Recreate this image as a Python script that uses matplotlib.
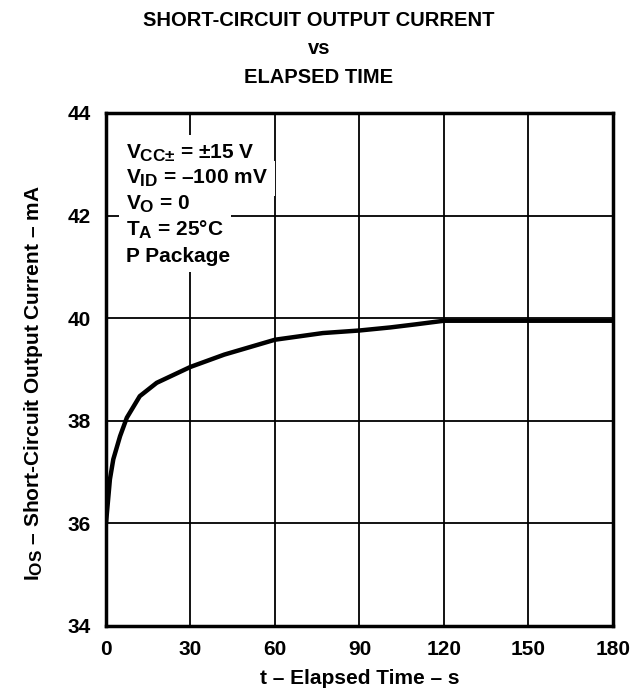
import matplotlib
matplotlib.use("Agg")
import matplotlib.pyplot as plt
try:
    import matplotlib._mathtext as _mt
    _mt.SHRINK_FACTOR = 0.82
except Exception:
    pass

plt.rcParams['font.family'] = ['Liberation Sans', 'DejaVu Sans']
plt.rcParams['font.weight'] = 'bold'
plt.rcParams['mathtext.fontset'] = 'custom'
plt.rcParams['mathtext.rm'] = 'Liberation Sans:bold'
plt.rcParams['mathtext.it'] = 'Liberation Sans:bold'
plt.rcParams['mathtext.bf'] = 'Liberation Sans:bold'

# Data
time_s = [0, 1.4, 2.6, 5.0, 7.4, 12, 18, 30, 42, 60, 77, 90, 101, 110, 120, 150, 180]
ios_mA = [36.0, 36.86, 37.25, 37.70, 38.06, 38.48, 38.74, 39.05, 39.29, 39.58,
          39.71, 39.76, 39.82, 39.88, 39.95, 39.95, 39.95]
x_ticks = [0, 30, 60, 90, 120, 150, 180]
y_ticks = [34, 36, 38, 40, 42, 44]
note_lines = ['$V_{CC{\\pm}}$ = ±15 V',
              '$V_{ID}$ = –100 mV',
              '$V_{O}$ = 0',
              '$T_{A}$ = 25°C',
              'P Package']

fig = plt.figure(figsize=(6.40, 6.91), dpi=100)
ax = fig.add_axes([0.1656, 0.0941, 0.7922, 0.7424])

ax.plot(time_s, ios_mA, color='black', linewidth=3.2, solid_capstyle='round', zorder=3)

ax.set_xlim(0, 180)
ax.set_ylim(34, 44)
ax.set_xticks(x_ticks)
ax.set_yticks(y_ticks)
ax.tick_params(axis='x', length=0, labelsize=15, pad=10)
ax.tick_params(axis='y', length=0, labelsize=15, pad=11)
for lab in ax.get_xticklabels() + ax.get_yticklabels():
    lab.set_fontweight('bold')
ax.grid(True, color='black', linewidth=1.3)
for s in ax.spines.values():
    s.set_linewidth(2.5)
    s.set_zorder(4)

ax.set_xlabel('t – Elapsed Time – s', fontsize=15, fontweight='bold', labelpad=7)
ax.set_ylabel(r'$I_{OS}$ – Short-Circuit Output Current – mA', fontsize=15,
              fontweight='bold')
ax.yaxis.set_label_coords(-0.121, 0.473)

fig.text(0.498, 0.9624, 'SHORT-CIRCUIT OUTPUT CURRENT', ha='center', va='baseline',
         fontsize=14.5, fontweight='bold')
fig.text(0.498, 0.9219, 'vs', ha='center', va='baseline', fontsize=14.5, fontweight='bold')
fig.text(0.498, 0.8799, 'ELAPSED TIME', ha='center', va='baseline', fontsize=14.5,
         fontweight='bold')

y0 = 0.922
dy = 0.0502
for i, line in enumerate(note_lines):
    ax.text(0.04, y0 - i * dy, line, transform=ax.transAxes, ha='left', va='center',
            fontsize=15, fontweight='bold',
            bbox=dict(facecolor='white', edgecolor='none', pad=5), zorder=5)

fig.savefig('out.png', dpi=100)
